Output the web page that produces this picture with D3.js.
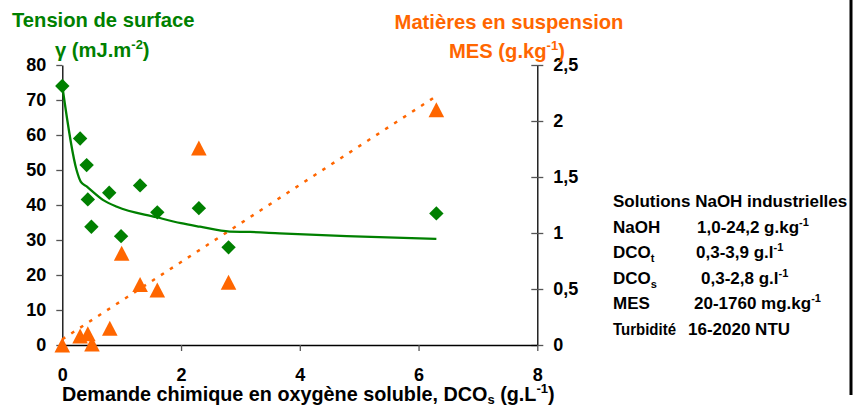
<!DOCTYPE html>
<html>
<head>
<meta charset="utf-8">
<script src="https://cdn.jsdelivr.net/npm/d3@7"></script>
<style>
  html, body { margin: 0; padding: 0; background: #fff; }
  svg { display: block; font-family: "Liberation Sans", Arial, sans-serif; font-weight: bold; }
</style>
</head>
<body>
<svg id="chart" width="855" height="405"></svg>
<script>
// Measurements: soluble COD (g/L), surface tension (mJ/m2), suspended solids (g/kg)
const dcoSoluble   = [0, 0.30, 0.41, 0.43, 0.49, 0.79, 0.99, 1.31, 1.60, 2.30, 2.80, 6.30];
const tension      = [74, 59.0, 51.4, 41.6, 33.8, 43.5, 31.1, 45.6, 37.9, 39.1, 27.9, 37.6];
const dcoMes       = [0, 0.30, 0.43, 0.50, 0.80, 1.00, 1.31, 1.60, 2.30, 2.80, 6.30];
const mes          = [0, 0.08, 0.10, 0.01, 0.15, 0.82, 0.54, 0.49, 1.76, 0.56, 2.10];

// Fitted tension curve (x, gamma)
const fitX = [0, 0.24, 0.31, 0.41, 0.69, 0.92, 1.59, 2.00, 2.32, 2.82, 3.16, 3.66, 4.79, 6.30];
const fitY = [74, 50.0, 46.7, 45.3, 41.4, 39.5, 36.5, 34.8, 33.8, 32.4, 32.3, 31.9, 31.1, 30.3];

// Linear trend of MES (endpoints, g/kg)
const trendX = [0, 6.3];
const trendY = [0.051, 2.223];

const xTicks = [0, 2, 4, 6, 8];
const yLeftTicks = [0, 10, 20, 30, 40, 50, 60, 70, 80];
const yRightTicks = [0, 0.5, 1, 1.5, 2, 2.5];

const GREEN = "#008000";
const ORANGE = "#FF6600";
const FONT = "Liberation Sans, Arial, sans-serif";

const svg = d3.select("#chart");

const x = d3.scaleLinear().domain([0, 8]).range([62.3, 537.3]);
const yL = d3.scaleLinear().domain([0, 80]).range([345, 65]);
const yR = d3.scaleLinear().domain([0, 2.5]).range([345, 65]);

const frLocale = d3.formatLocale({ decimal: ",", thousands: " ", grouping: [3], currency: ["", " €"] });
const fmtR = frLocale.format("");

// Left axis
const gL = svg.append("g").attr("transform", `translate(${x(0)},0)`)
  .call(d3.axisLeft(yL).tickValues(yLeftTicks).tickSize(6).tickPadding(10).tickSizeOuter(0));
// Right axis
const gR = svg.append("g").attr("transform", `translate(${x(8)},0)`)
  .call(d3.axisRight(yR).tickValues(yRightTicks).tickFormat(fmtR).tickSize(6).tickPadding(10).tickSizeOuter(0));
gR.selectAll(".tick line").attr("x1", -6).attr("x2", 6);
// Bottom axis
const gB = svg.append("g").attr("transform", `translate(0,${yL(0)})`)
  .call(d3.axisBottom(x).tickValues(xTicks).tickSize(6).tickPadding(17).tickSizeOuter(0));

[gL, gR, gB].forEach(g => {
  g.select(".domain").attr("stroke", "#000").attr("stroke-width", 1.3);
  g.selectAll(".tick line").attr("stroke", "#555").attr("stroke-width", 1.3);
  g.selectAll(".tick text").attr("fill", "#000").style("font-size", "18px")
    .style("font-weight", "bold").style("font-family", FONT);
});
gB.selectAll(".tick").filter(d => d === 0).select("line").remove();

// MES linear trend (dotted)
svg.append("path")
  .datum(trendX.map((v, i) => [v, trendY[i]]))
  .attr("d", d3.line().x(d => x(d[0])).y(d => yR(d[1])))
  .attr("fill", "none").attr("stroke", ORANGE).attr("stroke-width", 2.5)
  .attr("stroke-dasharray", "3.5,7.2");

// Tension fit curve
svg.append("path")
  .datum(fitX.map((v, i) => [v, fitY[i]]))
  .attr("d", d3.line().x(d => x(d[0])).y(d => yL(d[1])).curve(d3.curveMonotoneX))
  .attr("fill", "none").attr("stroke", GREEN).attr("stroke-width", 2.3);

// Tension markers (diamonds)
svg.append("g").selectAll("path")
  .data(dcoSoluble.map((v, i) => [v, tension[i]]))
  .join("path")
  .attr("transform", d => `translate(${x(d[0])},${yL(d[1])})`)
  .attr("d", "M0,-7.2L7.2,0L0,7.2L-7.2,0Z")
  .attr("fill", GREEN);

// MES markers (triangles)
svg.append("g").selectAll("path")
  .data(dcoMes.map((v, i) => [v, mes[i]]))
  .join("path")
  .attr("transform", d => `translate(${x(d[0])},${yR(d[1])})`)
  .attr("d", "M0,-7.5L7.8,7.5L-7.8,7.5Z")
  .attr("fill", ORANGE);

// Axis titles
svg.append("text").attr("x", 12).attr("y", 27).attr("fill", GREEN).style("font-size", "20.2px")
  .text("Tension de surface");
const tL2 = svg.append("text").attr("x", 55).attr("y", 57).attr("fill", GREEN).style("font-size", "20.2px");
tL2.append("tspan").text("γ (mJ.m");
tL2.append("tspan").attr("dy", -8).style("font-size", "13px").text("-2");
tL2.append("tspan").attr("dy", 8).text(")");

svg.append("text").attr("x", 509).attr("y", 29).attr("text-anchor", "middle").attr("fill", ORANGE)
  .style("font-size", "20.2px").text("Matières en suspension");
const tR2 = svg.append("text").attr("x", 449).attr("y", 58).attr("fill", ORANGE).style("font-size", "20.2px");
tR2.append("tspan").text("MES (g.kg");
tR2.append("tspan").attr("dy", -8).style("font-size", "13px").text("-1");
tR2.append("tspan").attr("dy", 8).text(")");

const tX = svg.append("text").attr("x", 62).attr("y", 401).attr("fill", "#000").style("font-size", "19.8px");
tX.append("tspan").text("Demande chimique en oxygène soluble, DCO");
tX.append("tspan").attr("dy", 3).style("font-size", "13px").text("s");
tX.append("tspan").attr("dy", -3).text(" (g.L");
tX.append("tspan").attr("dy", -8).style("font-size", "13px").text("-1");
tX.append("tspan").attr("dy", 8).text(")");

// Side note: properties of the industrial NaOH solutions
const noteLabels = ["NaOH", "DCO", "DCO", "MES", "Turbidité"];
const noteSubs = ["", "t", "s", "", ""];
const noteVals = ["1,0-24,2 g.kg", "0,3-3,9 g.l", "0,3-2,8 g.l", "20-1760 mg.kg", "16-2020 NTU"];
const noteSups = ["-1", "-1", "-1", "-1", ""];
const noteValX = [697, 696, 701, 694, 688];
const noteY = [207 + 25.5, 207 + 51, 207 + 76.5, 207 + 102, 207 + 127.5];

const note = svg.append("g").style("font-size", "17px").attr("fill", "#000");
note.append("text").attr("x", 613).attr("y", 207).text("Solutions NaOH industrielles");
noteLabels.forEach((lab, i) => {
  const t = note.append("text").attr("x", 613).attr("y", noteY[i]);
  const s = t.append("tspan").text(lab);
  if (lab === "Turbidité") s.attr("textLength", 63).attr("lengthAdjust", "spacingAndGlyphs");
  if (noteSubs[i]) t.append("tspan").attr("dy", 4).style("font-size", "11px").text(noteSubs[i]);
  const v = note.append("text").attr("x", noteValX[i]).attr("y", noteY[i]);
  v.append("tspan").text(noteVals[i]);
  if (noteSups[i]) v.append("tspan").attr("dy", -7).style("font-size", "11px").text(noteSups[i]);
});

// Right border of the chart area
svg.append("rect").attr("x", 851).attr("y", 0).attr("width", 4).attr("height", 405).attr("fill", "#fff");
svg.append("line").attr("x1", 851).attr("x2", 851).attr("y1", 0).attr("y2", 395)
  .attr("stroke", "#000").attr("stroke-width", 3);
</script>
</body>
</html>
